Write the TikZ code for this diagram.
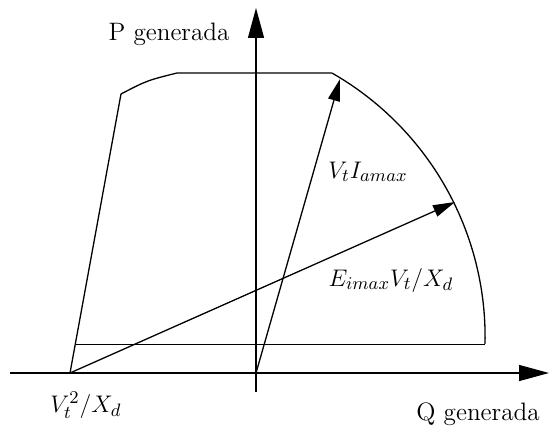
\documentclass[tikz,border=0pt]{standalone}
\usetikzlibrary{arrows.meta}
\begin{document}
\begin{tikzpicture}[x=0.5pt,y=-0.5pt,
  line/.style={line width=0.65pt},
  axisarrow/.style={line, -{Triangle[length=15pt,width=8pt]}},
  vecarrow/.style={line, -{Triangle[length=11pt,width=6pt]}},
  lbl/.style={inner sep=0pt, font=\fontsize{12.6}{15}\selectfont}]
\useasboundingbox (0,0) rectangle (549,432);
% coordinates
\coordinate (xs) at (10,373);
\coordinate (xe) at (549,373);
\coordinate (ys) at (256,392);
\coordinate (ye) at (256,8);
\coordinate (O) at (256,373);
\coordinate (V) at (70,373);
\coordinate (BL) at (75,344.5);
\coordinate (BR) at (485,344.5);
\coordinate (LC) at (121,94);
\coordinate (TL) at (177,73);
\coordinate (TR) at (332,73);
\coordinate (T1) at (340,79);
\coordinate (T2) at (455,202);
% axes
\draw[axisarrow] (xs) -- (xe);
\draw[axisarrow] (ys) -- (ye);
% capability region
\draw[line] (BL) -- (BR);
\draw[line] (V) -- (LC) .. controls (147,80.5) .. (TL) -- (TR);
\draw[line] plot[domain=-60.2:1.3, samples=60, smooth] ({181+304.1*cos(\x)},{337+304.1*sin(\x)});
% vectors
\draw[vecarrow] (O) -- (T1);
\draw[vecarrow] (V) -- (T2);
% labels
\node[lbl] (p) at (169,34) {P generada};
\node[lbl] (q) at (478,414) {Q generada};
\node[lbl] (v2) at (86,405) {$V_t^2/X_d$};
\node[lbl] (vi) at (368,172) {$V_tI_{amax}$};
\node[lbl] (ev) at (391,280) {$E_{imax}V_t/X_d$};
\end{tikzpicture}
\end{document}
